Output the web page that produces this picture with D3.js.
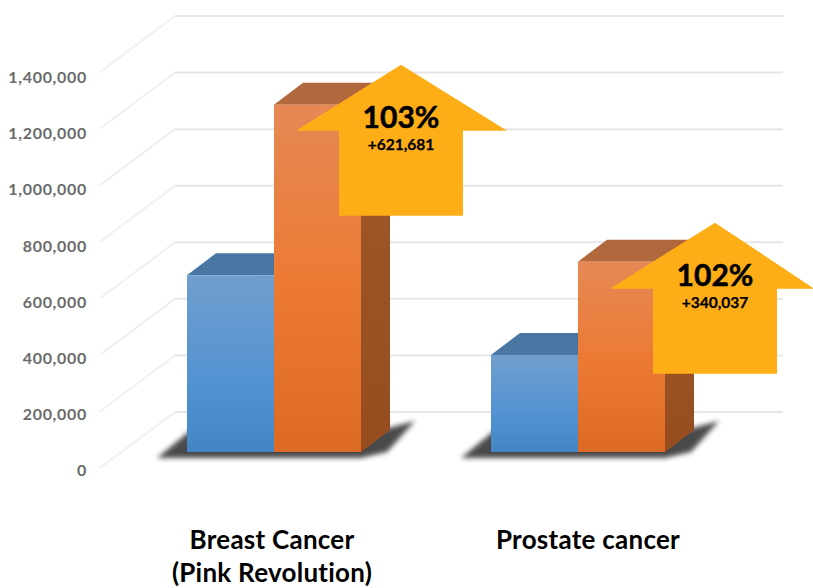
<!DOCTYPE html>
<html>
<head>
<meta charset="utf-8">
<script src="https://cdn.jsdelivr.net/npm/d3@7"></script>
<style>
  html, body { margin: 0; padding: 0; background: #fff; }
  svg { display: block; }
  text { font-family: Lato, sans-serif; font-weight: 700; }
</style>
</head>
<body>
<div id="graph"></div>
<script>
// data
const categories = ["Breast Cancer", "Prostate cancer"];
const categoryLines = [["Breast Cancer", "(Pink Revolution)"], ["Prostate cancer"]];
const series = ["before", "after"];
const beforeValues = [625000, 343000];
const afterValues = [1228000, 673000];
const tickValues = [0, 200000, 400000, 600000, 800000, 1000000, 1200000, 1400000];
const arrowPercents = ["103%", "102%"];
const arrowDeltas = ["+621,681", "+340,037"];

const width = 813;
const height = 588;

// 3d look
const depthX = 29, depthY = 22;
const frontDy = 40;           // front plane of bars below the back wall
const wallDx = 75, wallDy = 56;

const svg = d3.select("#graph").append("svg")
    .attr("width", width)
    .attr("height", height);

const x0 = d3.scaleBand().domain(categories).range([187, 665]).paddingInner(0.4276);
const x1 = d3.scaleBand().domain(series).range([0, x0.bandwidth()]);
const y = d3.scaleLinear().domain([0, 1400000]).range([412, 16]);
const yLabel = d3.scaleLinear().domain([0, 1400000]).range([470.5, 77.5]);

const defs = svg.append("defs");

function gradient(id, stops) {
    const g = defs.append("linearGradient").attr("id", id)
        .attr("x1", 0).attr("x2", 0).attr("y1", 0).attr("y2", 1);
    stops.forEach(s => g.append("stop").attr("offset", s[0]).attr("stop-color", s[1]));
}
gradient("blueFront", [[0, "#709fce"], [0.6, "#5392d2"], [1, "#4286c6"]]);
gradient("orangeFront", [[0, "#e58955"], [0.5, "#ec7a35"], [1, "#dd6a24"]]);
gradient("orangeSide", [[0, "#a05a2c"], [1, "#964c1e"]]);

defs.append("filter").attr("id", "blur")
    .attr("x", "-10%").attr("y", "-50%").attr("width", "120%").attr("height", "200%")
    .append("feGaussianBlur").attr("stdDeviation", 2.5);

// back wall gridlines
svg.append("g").selectAll("line")
    .data(tickValues)
    .enter().append("line")
    .attr("x1", 175).attr("x2", 783)
    .attr("y1", d => y(d)).attr("y2", d => y(d))
    .attr("stroke", "#e6e6e8")
    .attr("stroke-width", 2);

// side wall lines
svg.append("g").selectAll("line")
    .data(tickValues)
    .enter().append("line")
    .attr("x1", 175 - wallDx).attr("x2", 175)
    .attr("y1", d => y(d) + wallDy).attr("y2", d => y(d))
    .attr("stroke", "#f0f0f1")
    .attr("stroke-width", 2);

// axis labels
const axis = svg.append("g")
    .attr("transform", "translate(87,0)")
    .call(d3.axisLeft(yLabel).tickValues(tickValues).tickSize(0).tickPadding(0).tickFormat(d3.format(",")));
axis.select(".domain").remove();
axis.selectAll("text")
    .style("font-family", "Lato, sans-serif")
    .style("font-weight", 700)
    .style("font-size", "16px")
    .style("letter-spacing", "0.7px")
    .attr("fill", "#6a6a6a");

const groups = svg.selectAll(".group")
    .data(categories)
    .enter().append("g")
    .attr("class", "group")
    .attr("transform", d => `translate(${x0(d)},0)`);

const floorY = y(0) + frontDy;

// floor shadow
groups.append("path")
    .attr("d", () => {
        const w = x0.bandwidth();
        return `M-30,${floorY + 6} L4,${floorY - 22} L${w + 20},${floorY - 22} L${w + 54},${floorY - 31} L${w + 26},${floorY} L${w},${floorY + 6} Z`;
    })
    .attr("fill", "#2c2c2c")
    .attr("opacity", 0.85)
    .attr("filter", "url(#blur)");

// bars, blue first so orange sits over its side
groups.each(function(cat, i) {
    const g = d3.select(this);
    const rows = [
        { key: "before", value: beforeValues[i], front: "url(#blueFront)", top: "#4a76a3", side: "#3a6690" },
        { key: "after", value: afterValues[i], front: "url(#orangeFront)", top: "#b2683d", side: "url(#orangeSide)" }
    ];
    rows.forEach(r => {
        const left = x1(r.key);
        const right = left + x1.bandwidth();
        const top = y(r.value) + frontDy;
        g.append("path")
            .attr("d", `M${left},${top} L${left + depthX},${top - depthY} L${right + depthX},${top - depthY} L${right},${top} Z`)
            .attr("fill", r.top);
        g.append("path")
            .attr("d", `M${right},${top} L${right + depthX},${top - depthY} L${right + depthX},${floorY - depthY} L${right},${floorY} Z`)
            .attr("fill", r.side);
        g.append("rect")
            .attr("x", left).attr("y", top)
            .attr("width", x1.bandwidth()).attr("height", floorY - top)
            .attr("fill", r.front);
    });
});

// arrows
const arrowTipDx = [214, 224];  // tip from left of group
const arrowTipDy = [-40, -39];
const arrows = groups.append("g")
    .attr("transform", (d, i) => `translate(${arrowTipDx[i]},${y(afterValues[i]) + frontDy + arrowTipDy[i]})`);

arrows.append("path")
    .attr("d", (d, i) => {
        const hl = 105, hr = i === 0 ? 106 : 99;
        return `M0,0 L${hr},66 L62,66 L62,151 L-62,151 L-62,66 L${-hl},66 Z`;
    })
    .attr("fill", "#fdae17");

arrows.append("text")
    .attr("y", 63)
    .attr("text-anchor", "middle")
    .attr("font-size", 30)
    .attr("fill", "#000")
    .attr("stroke", "#000")
    .attr("stroke-width", 0.5)
    .text((d, i) => arrowPercents[i]);

arrows.append("text")
    .attr("y", 85)
    .attr("text-anchor", "middle")
    .attr("font-size", 15.5)
    .attr("fill", "#000")
    .attr("stroke", "#000")
    .attr("stroke-width", 0.25)
    .text((d, i) => arrowDeltas[i]);

// category labels
groups.each(function(cat, i) {
    d3.select(this).selectAll(".cat")
        .data(categoryLines[i])
        .enter().append("text")
        .attr("class", "cat")
        .attr("x", i === 0 ? 85 : 97)
        .attr("y", (d, j) => 548.5 + j * 33.5)
        .attr("text-anchor", "middle")
        .attr("font-size", 26)
        .style("letter-spacing", "0.25px")
        .attr("fill", "#000")
        .text(d => d);
});
</script>
</body>
</html>
